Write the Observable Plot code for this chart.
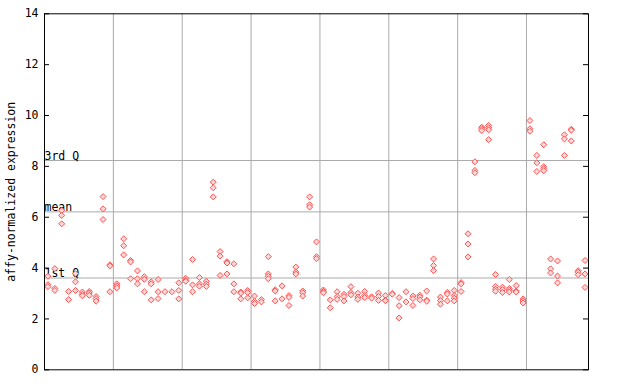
<!DOCTYPE html>
<html><head><meta charset="utf-8">
<script src="https://cdn.jsdelivr.net/npm/d3@7"></script>
<script src="https://cdn.jsdelivr.net/npm/@observablehq/plot@0.6"></script>
<style>body{margin:0;background:#fff}</style>
</head><body><div id="chart"></div>
<script>
// replicate values per sample (79 samples)
const expression = [
  [3.68, 3.35, 3.27], [3.98, 3.2, 3.12], [6.27, 6.07, 5.74], [3.08, 2.76], [3.78, 3.46, 3.12],
  [3.06, 2.97, 2.91], [3.08, 3.02, 2.93], [2.88, 2.8, 2.7], [6.81, 6.33, 5.91], [4.13, 4.09, 3.07],
  [3.38, 3.3, 3.22], [5.15, 4.88, 4.52], [4.3, 4.24, 3.58], [3.89, 3.58, 3.38], [3.66, 3.56, 3.07],
  [3.46, 3.38, 2.75], [3.55, 3.07, 2.8], [3.07], [3.07], [3.42, 3.12, 2.79],
  [3.6, 3.52, 3.48], [4.34, 3.34, 3.07], [3.63, 3.38, 3.29], [3.48, 3.37, 3.28], [7.38, 7.16, 6.8],
  [4.65, 4.47, 3.71], [4.25, 4.2, 3.77], [4.17, 3.38, 3.07], [3.06, 3.02, 2.79], [3.12, 3.04, 2.83],
  [2.9, 2.69, 2.61], [2.76, 2.67], [4.45, 3.77, 3.68, 3.58], [3.15, 3.1, 2.71], [3.3, 2.79],
  [2.92, 2.85, 2.53], [4.04, 3.85, 3.77], [3.1, 3.03, 2.9], [6.8, 6.49, 6.4], [5.03, 4.45, 4.37],
  [3.14, 3.08, 3.03], [2.75, 2.44], [3.07, 2.88, 2.77], [2.97, 2.88, 2.71], [3.27, 3.04, 2.95],
  [3.01, 2.86, 2.77], [3.08, 2.92, 2.84], [2.87, 2.82], [3.02, 2.88, 2.73], [2.92, 2.74, 2.72],
  [3.0, 2.97], [2.84, 2.52, 2.04], [3.07, 2.67], [2.9, 2.8, 2.53], [2.93, 2.86, 2.75],
  [3.1, 2.74, 2.7], [4.36, 4.1, 3.9], [2.86, 2.72, 2.58], [3.04, 2.98, 2.71], [3.12, 2.92, 2.82, 2.71],
  [3.43, 3.38, 3.08], [5.35, 4.95, 4.44], [8.18, 7.84, 7.75], [9.54, 9.48, 9.41], [9.61, 9.52, 9.44, 9.05],
  [3.75, 3.28, 3.17, 3.09], [3.25, 3.15, 3.04], [3.55, 3.2, 3.13, 3.06], [3.31, 3.1, 3.06], [2.79, 2.71, 2.63],
  [9.8, 9.48, 9.38], [8.43, 8.14, 7.8], [8.85, 7.99, 7.91, 7.83], [4.36, 3.97, 3.81], [4.28, 3.69, 3.42],
  [9.24, 9.08, 8.43], [9.46, 9.42, 9.0], [3.9, 3.84, 3.74], [4.3, 3.77, 3.24]
];
const groupBoundaries = [9.5, 19.5, 29.5, 39.5, 49.5, 59.5, 69.5];
const yTicks = [0, 2, 4, 6, 8, 10, 12, 14];
const refValues = [8.23, 6.21, 3.61];
const refLabels = ["3rd Q", "mean", "1st Q"];
const yLabel = "affy-normalized expression";

const points = expression.flatMap((vals, i) => vals.map(v => ({sample: i, value: v})));
const refs = refValues.map((v, i) => ({value: v, label: refLabels[i]}));

const W = 640, H = 384, ML = 44, MR = 52;
const xDomain = [-0.5, expression.length - 0.5];
// length of a 5px inward tick expressed in x-scale units
const tickLen = 5 * (xDomain[1] - xDomain[0]) / (W - ML - MR);

const chart = Plot.plot({
  width: W, height: H,
  marginLeft: ML, marginRight: MR, marginTop: 13.3, marginBottom: 14.7,
  x: {domain: xDomain, axis: null},
  y: {domain: [0, 14], axis: null},
  style: {fontFamily: "'DejaVu Sans Mono', monospace", fontSize: "11.5px", background: "#fff", color: "#000"},
  marks: [
    Plot.ruleX(groupBoundaries, {stroke: "#aaaaaa", strokeWidth: 1}),
    Plot.ruleY(refs, {y: "value", stroke: "#aaaaaa", strokeWidth: 1}),
    Plot.text(refs, {y: "value", text: "label", frameAnchor: "left", textAnchor: "start", lineAnchor: "bottom", dy: -1, fill: "#000"}),
    Plot.dot(points, {x: "sample", y: "value", symbol: "diamond2", r: 2.7, stroke: "#ff5050", fill: "#ffd8d8", strokeWidth: 1}),
    Plot.frame({stroke: "#000", strokeWidth: 1}),
    Plot.axisY(yTicks, {anchor: "left", label: null, tickSize: 0, tickPadding: 6, tickFormat: d => String(d), fill: "#000"}),
    Plot.ruleY(yTicks, {y: d => d, x1: xDomain[0], x2: xDomain[0] + tickLen, stroke: "#000", strokeWidth: 1}),
    Plot.ruleY(yTicks, {y: d => d, x1: xDomain[1] - tickLen, x2: xDomain[1], stroke: "#000", strokeWidth: 1}),
    Plot.text([yLabel], {text: d => d, frameAnchor: "left", textAnchor: "middle", rotate: -90, dx: -33, fill: "#000"})
  ]
});
document.getElementById("chart").appendChild(chart);
</script>
</body></html>
